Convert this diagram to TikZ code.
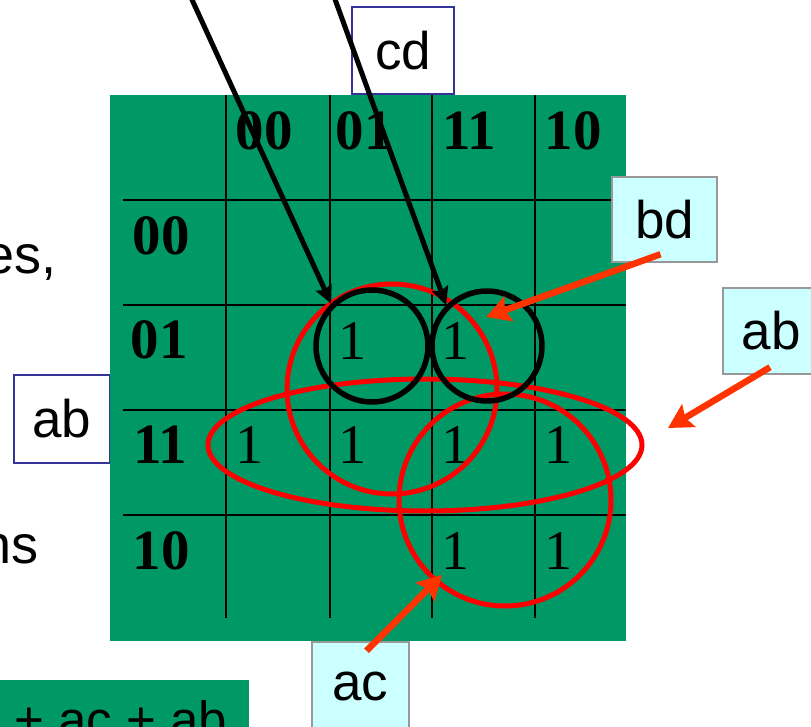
\documentclass[tikz,border=0pt]{standalone}
\usepackage{fontspec}
\setmainfont{Liberation Serif}
\setsansfont{Liberation Sans}
\usepackage{tikz}
\usetikzlibrary{arrows.meta}
\definecolor{mapgreen}{HTML}{009966}
\definecolor{loopred} {HTML}{FF0000}
\definecolor{pointred}{HTML}{FF3300}
\definecolor{tagcyan} {HTML}{CCFFFF}
\definecolor{tagrim}  {HTML}{999999}
\definecolor{navyrim} {HTML}{333399}

\begin{document}
\begin{tikzpicture}[x=1pt,y=-1pt,
  gridline/.style={black,line width=2pt},
  headdigits/.style={font=\fontsize{57}{60}\selectfont\bfseries,inner sep=0pt},
  cellone/.style={font=\fontsize{56}{60}\selectfont,inner sep=0pt},
  plaintag/.style={draw=navyrim,fill=white,line width=2pt,inner sep=0pt,minimum width=96pt,minimum height=88pt,font=\sffamily\fontsize{53}{60}\selectfont},
  hinttag/.style={draw=tagrim,fill=tagcyan,line width=2.5pt,inner sep=0pt,minimum width=96pt,minimum height=86pt,font=\sffamily\fontsize{53}{60}\selectfont},
  pairring/.style={circle,draw=black,line width=5.5pt,minimum size=112pt,inner sep=0pt},
  redloop/.style={loopred,line width=5pt},
  blackptr/.style={black,line width=5pt,-{Stealth[length=18pt,width=17pt,inset=3pt]}},
  redptr/.style={pointred,line width=6.5pt,-{Stealth[length=24pt,width=26pt,inset=4pt]}},
  sidetext/.style={font=\sffamily\fontsize{54}{60}\selectfont,inner sep=0pt}]
\useasboundingbox (0,0) rectangle (811,727);
\clip (0,0) rectangle (811,727);
\node[sidetext,anchor=base east] (frag1) at (57,274) {es,};
\node[sidetext,anchor=base east] (frag2) at (39,563) {ns};
\node[plaintag] (rowvar) at (62,419) {ab};
\node[plaintag,minimum width=102pt,minimum height=87pt] (colvar) at (403,50.5) {cd};
\node[fill=mapgreen,inner sep=0pt,minimum width=516pt,minimum height=546pt,anchor=north west] (kmap) at (110,95) {};
\draw[gridline] (226,95) -- (226,618);
\draw[gridline] (330,95) -- (330,618);
\draw[gridline] (432,95) -- (432,618);
\draw[gridline] (535,95) -- (535,618);
\draw[gridline] (123,200) -- (626,200);
\draw[gridline] (123,305) -- (626,305);
\draw[gridline] (123,410) -- (626,410);
\draw[gridline] (123,515) -- (626,515);
\node[headdigits] (c00) at (264,131) {00};
\node[headdigits] (c01) at (364,131) {01};
\node[headdigits] (c11) at (469,131) {11};
\node[headdigits] (c10) at (573,131) {10};
\node[headdigits] (r00) at (161,236) {00};
\node[headdigits] (r01) at (159,340) {01};
\node[headdigits] (r11) at (160,445) {11};
\node[headdigits] (r10) at (161,551) {10};
\node[cellone] (m5)  at (352,341) {1};
\node[cellone] (m7)  at (455,341) {1};
\node[cellone] (m12) at (249,445) {1};
\node[cellone] (m13) at (352,445) {1};
\node[cellone] (m15) at (455,445) {1};
\node[cellone] (m14) at (558,445) {1};
\node[cellone] (m11) at (455,551) {1};
\node[cellone] (m10) at (558,551) {1};
\draw[redloop] (392,389) circle[radius=105];
\draw[redloop] (425,445) ellipse[x radius=217,y radius=66];
\draw[redloop] (505,500) circle[radius=106];
\node[pairring] (g5) at (372,346) {};
\node[pairring,minimum size=110pt] (g7) at (487,346) {};
\coordinate (up1) at (183,-20);
\coordinate (up2) at (328,-20);
\draw[blackptr] (up1) -- (g5.134);
\draw[blackptr] (up2) -- (g7.135);
\node[hinttag,minimum width=105pt,minimum height=85pt] (bd) at (664.5,219.5) {bd};
\node[hinttag] (abr) at (771,331) {ab};
\node[hinttag,minimum width=97pt,minimum height=88pt] (ac) at (360.5,686) {ac};
\coordinate (bdtip) at (486,317);
\coordinate (abtip) at (668,428);
\coordinate (actip) at (442,575);
\draw[redptr] ([xshift=-4pt,yshift=9pt]bd.south) -- (bdtip);
\draw[redptr] ([xshift=-1pt,yshift=8pt]abr.south) -- (abtip);
\draw[redptr] ([xshift=6pt,yshift=-10pt]ac.north) -- (actip);
\node[fill=mapgreen,inner sep=0pt,minimum width=249pt,minimum height=60pt,anchor=north west] (sumbox) at (0,680) {};
\node[sidetext,font=\sffamily\fontsize{51}{60}\selectfont,anchor=base west] (sumtext) at (14.5,737) {+ ac + ab};
\end{tikzpicture}
\end{document}
